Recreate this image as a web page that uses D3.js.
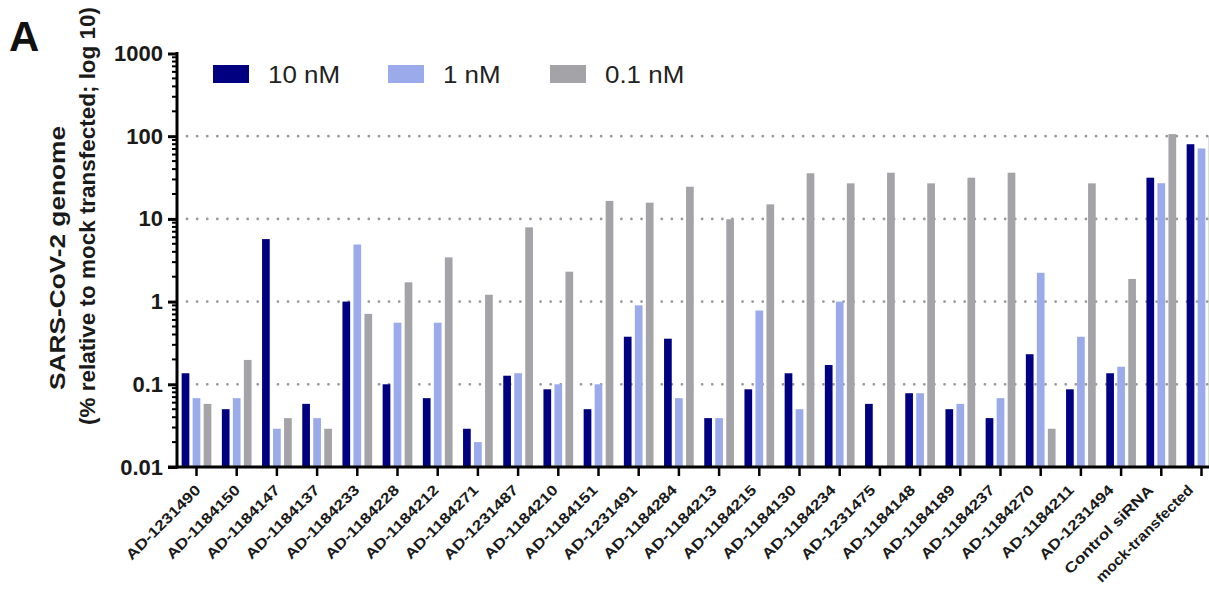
<!DOCTYPE html>
<html>
<head>
<meta charset="utf-8">
<script src="https://cdn.jsdelivr.net/npm/d3@7"></script>
<style>
  body { margin: 0; background: #fff; }
  text { font-family: Arial, "Liberation Sans", sans-serif; }
</style>
</head>
<body>
<div id="chart"></div>
<script>
// SARS-CoV-2 genome vs siRNA, grouped bars on log axis

const categories = ["AD-1231490","AD-1184150","AD-1184147","AD-1184137","AD-1184233","AD-1184228",
    "AD-1184212","AD-1184271","AD-1231487","AD-1184210","AD-1184151","AD-1231491","AD-1184284",
    "AD-1184213","AD-1184215","AD-1184130","AD-1184234","AD-1231475","AD-1184148","AD-1184189",
    "AD-1184237","AD-1184270","AD-1184211","AD-1231494","Control siRNA","mock-transfected"];

const series = ["10 nM", "1 nM", "0.1 nM"];

const nM10 = [0.136, 0.050, 5.7, 0.058, 1.0, 0.10, 0.068, 0.029, 0.127, 0.087, 0.050, 0.376, 0.356,
    0.039, 0.087, 0.136, 0.171, 0.058, 0.078, 0.050, 0.039, 0.231, 0.087, 0.136, 31.5, 80];
const nM1 = [0.068, 0.068, 0.029, 0.039, 4.9, 0.556, 0.556, 0.020, 0.136, 0.10, 0.10, 0.90, 0.068,
    0.039, 0.78, 0.050, 1.0, null, 0.078, 0.058, 0.068, 2.23, 0.376, 0.163, 27, 71];
const nM01 = [0.058, 0.197, 0.039, 0.029, 0.71, 1.71, 3.43, 1.21, 7.9, 2.3, 16.5, 15.7, 24.5,
    9.9, 15.0, 35.6, 26.9, 36.2, 26.9, 31.5, 36.2, 0.029, 26.9, 1.88, 106, 100];

const yTicks = [0.01, 0.1, 1, 10, 100, 1000];
const gridValues = [0.1, 1, 10, 100];

const colors = ["#000080", "#9aaaea", "#a4a4a8"];

const width = 1209, height = 594;

let svg = d3.select("#chart")
    .append("svg")
    .attr("width", width)
    .attr("height", height)
    .attr("viewBox", [0, 0, width, height]);

let data = categories.map((c, i) => ({cat: c, vals: [nM10[i], nM1[i], nM01[i]]}));

let x = d3.scaleBand()
    .domain(categories)
    .range([176.4, 176.4 + 26 * 40.2]);

let x1 = d3.scaleBand() // bars inside each group
    .domain(series)
    .range([-16.5, 16.5])
    .paddingInner(0.3)
    .paddingOuter(0.15);

let y = d3.scaleLog()
    .domain([0.01, 1000])
    .range([467, 53.5]);

// dotted grid
svg.append("g")
    .selectAll("line")
    .data(gridValues)
    .join("line")
    .attr("x1", 187)
    .attr("x2", width)
    .attr("y1", d => y(d))
    .attr("y2", d => y(d))
    .attr("stroke", "#999")
    .attr("stroke-width", 2.7)
    .attr("stroke-linecap", "round")
    .attr("stroke-dasharray", "0.1,10");

// bars
let group = svg.selectAll(".bar")
    .data(data)
    .join("g")
    .attr("class", "bar")
    .attr("transform", d => `translate(${x(d.cat) + x.bandwidth() / 2},0)`);

group.selectAll("rect")
    .data(d => d.vals.map((v, j) => ({s: series[j], v: v, j: j})).filter(e => e.v != null))
    .join("rect")
    .attr("x", e => x1(e.s))
    .attr("width", x1.bandwidth())
    .attr("y", e => y(e.v))
    .attr("height", e => y(0.01) - y(e.v))
    .attr("fill", e => colors[e.j]);

// y axis
const minorTicks = [];
for (let p = -2; p < 3; p++) {
    for (let k = 2; k <= 9; k++) minorTicks.push(k * Math.pow(10, p));
}

const yAxis = g => g
    .attr("transform", "translate(177,0)")
    .call(d3.axisLeft(y).tickValues(yTicks).tickSize(9).tickFormat(d3.format("~g")))
    .call(g => g.select(".domain").attr("stroke-width", 3).attr("d", "M0,52V468.5"))
    .call(g => g.selectAll(".tick line").attr("stroke-width", 3))
    .call(g => g.selectAll(".tick text")
        .attr("x", -14)
        .attr("font-size", 22)
        .attr("font-weight", "bold")
        .attr("fill", "#1a1a1a")
        .attr("font-family", "Arial, 'Liberation Sans', sans-serif"));

svg.append("g").call(yAxis);

svg.append("g")
    .attr("transform", "translate(177,0)")
    .selectAll("line")
    .data(minorTicks)
    .join("line")
    .attr("x1", -5)
    .attr("x2", 0)
    .attr("y1", d => y(d))
    .attr("y2", d => y(d))
    .attr("stroke", "#000")
    .attr("stroke-width", 2);

// x axis, labels drift a little left of their ticks like the original
const xAxis = g => g
    .attr("transform", "translate(0,467)")
    .call(d3.axisBottom(x).tickSize(9).tickSizeOuter(0))
    .call(g => g.select(".domain").attr("stroke-width", 3).attr("d", `M168,0H${width + 20}`))
    .call(g => g.selectAll(".tick line").attr("stroke-width", 2.5))
    .call(g => g.selectAll(".tick text")
        .attr("text-anchor", "end")
        .attr("font-size", 14.5)
        .attr("font-weight", "bold")
        .attr("fill", "#1a1a1a")
        .attr("font-family", "Arial, 'Liberation Sans', sans-serif")
        .attr("dy", null)
        .attr("y", null)
        .attr("transform", (d, i) => {
            let sx = d.length > 13 ? 1.08 : 1.2; // long label is squeezed to stay on the page
            return `translate(${5 - 0.5 * i},24) rotate(-45) scale(${sx},1)`;
        }));

svg.append("g").call(xAxis);

// y title, two lines
svg.append("text")
    .attr("transform", "translate(65,258) rotate(-90)")
    .attr("text-anchor", "middle")
    .attr("font-size", 22)
    .attr("font-weight", "bold")
    .attr("fill", "#1a1a1a")
    .attr("textLength", 264)
    .attr("lengthAdjust", "spacingAndGlyphs")
    .text("SARS-CoV-2 genome");

svg.append("text")
    .attr("transform", "translate(95,216) rotate(-90)")
    .attr("text-anchor", "middle")
    .attr("font-size", 22)
    .attr("font-weight", "bold")
    .attr("fill", "#1a1a1a")
    .attr("textLength", 418)
    .attr("lengthAdjust", "spacingAndGlyphs")
    .text("(% relative to mock transfected; log 10)");

// panel letter
svg.append("text")
    .attr("x", 9)
    .attr("y", 51)
    .attr("font-size", 42)
    .attr("font-weight", "bold")
    .attr("fill", "#111")
    .text("A");

// legend
const legendX = [213, 388, 550];
let legend = svg.append("g")
    .selectAll("g")
    .data(series)
    .join("g")
    .attr("transform", (d, i) => `translate(${legendX[i]},65)`);

legend.append("rect")
    .attr("width", 36)
    .attr("height", 18)
    .attr("fill", (d, i) => colors[i]);

legend.append("text")
    .attr("transform", "translate(55,18) scale(1.08,1)")
    .attr("font-size", 24)
    .attr("fill", "#222")
    .text(d => d);
</script>
</body>
</html>
